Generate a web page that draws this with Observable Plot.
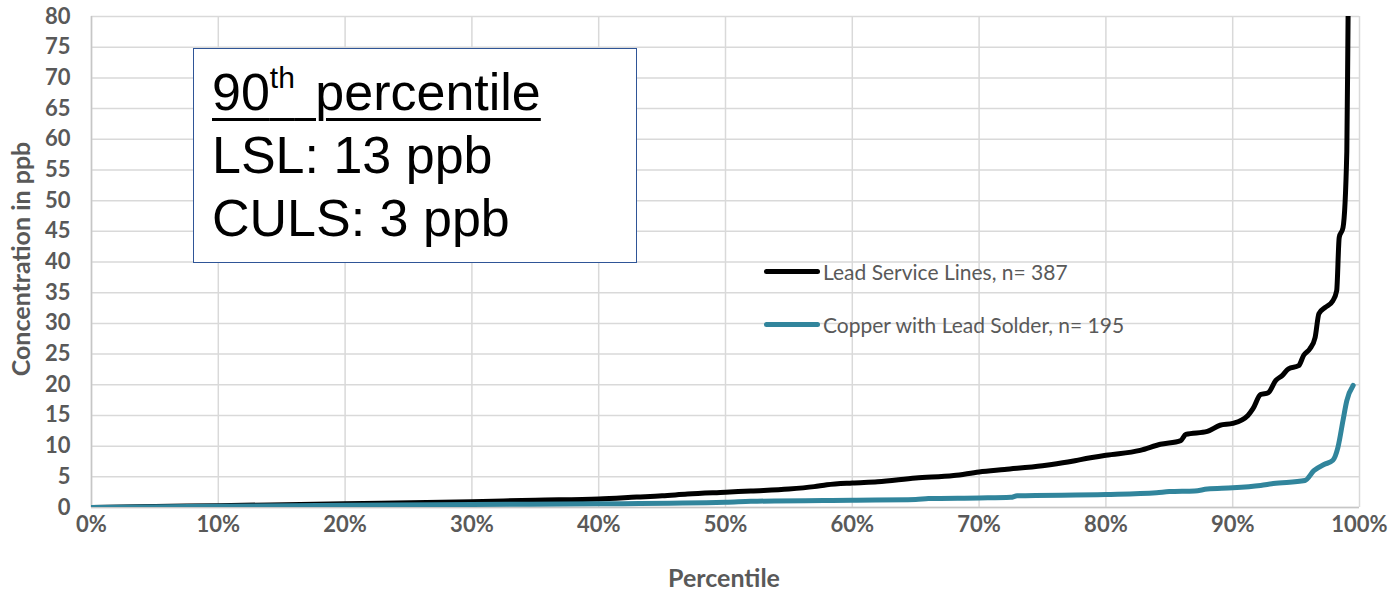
<!DOCTYPE html>
<html>
<head>
<meta charset="utf-8">
<script src="https://cdn.jsdelivr.net/npm/d3@7"></script>
<script src="https://cdn.jsdelivr.net/npm/@observablehq/plot@0.6"></script>
<style>
  html, body { margin: 0; padding: 0; background: #fff; }
  #wrap { position: relative; width: 1388px; height: 590px; font-family: Lato, "Open Sans", sans-serif; }
  #chart svg { display: block; }
  .axtitle { position: absolute; font-family: Lato, sans-serif; font-weight: bold; font-size: 25px; color: #595959; white-space: nowrap; }
  #ytitle { left: 20px; top: 259px; transform: translate(-50%, -50%) rotate(-90deg); }
  #xtitle { left: 724px; top: 577px; transform: translate(-50%, -50%); }
  #box { position: absolute; left: 193px; top: 48px; width: 444px; height: 215px; border: 1.5px solid #2F5597; background: #fff;
         font-family: "Liberation Sans", Arial, sans-serif; font-size: 52px; line-height: 63px; color: #000; padding: 12px 0 0 18px; box-sizing: border-box; }
  #box .u { text-decoration: underline; text-decoration-thickness: 2.5px; text-underline-offset: 8px; word-spacing: 6px; }
  #box sup { font-size: 30px; line-height: 0; vertical-align: 22px; }
  .leg { position: absolute; font-family: Lato, sans-serif; font-size: 21px; color: #595959; white-space: nowrap; display: flex; align-items: center; }
  .leg span.sw { display: inline-block; width: 56px; height: 5px; border-radius: 3px; margin-right: 3px; }
</style>
</head>
<body>
<div id="wrap">
  <div id="chart"></div>
  <div class="axtitle" id="ytitle">Concentration in ppb</div>
  <div class="axtitle" id="xtitle">Percentile</div>
  <div id="box"><span class="u">90<sup>th</sup> percentile</span><br>LSL: 13 ppb<br>CULS: 3 ppb</div>
  <div class="leg" style="left:764px; top:259px;"><span class="sw" style="background:#000"></span>Lead Service Lines, n= 387</div>
  <div class="leg" style="left:764px; top:312px;"><span class="sw" style="background:#31859C"></span>Copper with Lead Solder, n= 195</div>
</div>
<script>
// Lead Service Lines (n=387): percentile vs concentration (ppb)
const lslPct = [0, 0.05, 0.10, 0.20, 0.30, 0.35, 0.40, 0.43, 0.45, 0.47, 0.50, 0.52, 0.55, 0.57, 0.58, 0.60, 0.62, 0.65, 0.68, 0.70, 0.72, 0.75, 0.77, 0.78, 0.80, 0.827, 0.843, 0.859, 0.863, 0.88, 0.89, 0.90, 0.912, 0.916, 0.922, 0.928, 0.934, 0.939, 0.944, 0.952, 0.956, 0.961, 0.965, 0.968, 0.973, 0.979, 0.982, 0.984, 0.987, 0.990, 0.991, 0.992];
const lslPpb = [0, 0.15, 0.3, 0.6, 0.95, 1.2, 1.4, 1.7, 1.9, 2.2, 2.5, 2.7, 3.0, 3.4, 3.7, 4.0, 4.2, 4.8, 5.2, 5.8, 6.2, 6.8, 7.4, 7.8, 8.5, 9.3, 10.3, 10.9, 11.9, 12.4, 13.4, 13.7, 15.0, 16.1, 18.4, 18.7, 20.7, 21.5, 22.6, 23.1, 24.8, 25.9, 27.7, 31.6, 32.6, 33.7, 35.3, 44.0, 45.6, 58.0, 80.0, 95.0];
// Copper with Lead Solder (n=195)
const culsPct = [0, 0.10, 0.20, 0.30, 0.40, 0.50, 0.52, 0.60, 0.65, 0.66, 0.70, 0.725, 0.73, 0.80, 0.84, 0.85, 0.87, 0.88, 0.90, 0.922, 0.932, 0.957, 0.964, 0.972, 0.979, 0.983, 0.987, 0.990, 0.995];
const culsPpb = [0, 0.2, 0.35, 0.5, 0.6, 0.85, 1.0, 1.2, 1.3, 1.45, 1.55, 1.65, 1.9, 2.1, 2.4, 2.6, 2.7, 3.0, 3.2, 3.6, 3.9, 4.4, 6.0, 7.0, 7.7, 9.8, 14.2, 17.4, 19.9];
const xTicks = [0, 0.1, 0.2, 0.3, 0.4, 0.5, 0.6, 0.7, 0.8, 0.9, 1.0];
const yTicks = [0, 5, 10, 15, 20, 25, 30, 35, 40, 45, 50, 55, 60, 65, 70, 75, 80];

const lsl = lslPct.map((p, i) => ({p, v: lslPpb[i]}));
const culs = culsPct.map((p, i) => ({p, v: culsPpb[i]}));

const chart = Plot.plot({
  width: 1388,
  height: 590,
  marginLeft: 91,
  marginRight: 29,
  marginTop: 16,
  marginBottom: 83,
  style: {fontFamily: "Lato, sans-serif", background: "transparent"},
  x: {domain: [0, 1]},
  y: {domain: [0, 80]},
  marks: [
    Plot.gridY(yTicks, {stroke: "#d9d9d9", strokeOpacity: 1, strokeWidth: 1.5}),
    Plot.gridX(xTicks, {stroke: "#d9d9d9", strokeOpacity: 1, strokeWidth: 1.5}),
    Plot.ruleX([0], {stroke: "#c6c6c6", strokeWidth: 1.5}),
    Plot.ruleY([0], {stroke: "#c6c6c6", strokeWidth: 1.5}),
    Plot.axisY(yTicks, {tickSize: 0, tickPadding: 21, label: null, fontSize: 22, fontWeight: "bold", fill: "#595959"}),
    Plot.axisX(xTicks, {tickSize: 0, tickPadding: 9, label: null, tickFormat: d3.format(".0%"), fontSize: 22, fontWeight: "bold", fill: "#595959"}),
    Plot.line(lsl, {x: "p", y: "v", stroke: "#000", strokeWidth: 5, curve: "monotone-x", clip: true, strokeLinecap: "round", strokeLinejoin: "round"}),
    Plot.line(culs, {x: "p", y: "v", stroke: "#31859C", strokeWidth: 5, curve: "monotone-x", clip: true, strokeLinecap: "round", strokeLinejoin: "round"})
  ]
});
document.getElementById("chart").appendChild(chart);
</script>
</body>
</html>
